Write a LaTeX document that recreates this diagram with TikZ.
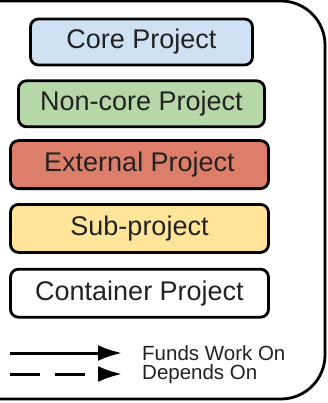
\documentclass[tikz,border=0pt]{standalone}
\usepackage{fontspec}
\setmainfont{Liberation Sans}
\usepackage{xcolor}
\usetikzlibrary{positioning,arrows.meta}

\definecolor{coreblue}{HTML}{CFE2F3}
\definecolor{noncoregreen}{HTML}{B6D7A8}
\definecolor{externalred}{HTML}{DD7E6B}
\definecolor{subyellow}{HTML}{FFE599}
\definecolor{textgray}{HTML}{222222}

\begin{document}
\begin{tikzpicture}[
    x=1pt, y=-1pt,
    project/.style={rectangle, draw, line width=2.8pt, rounded corners=8pt, minimum height=46pt, align=center, text=textgray, font=\fontsize{27}{30}\selectfont},
    legendtext/.style={anchor=west, inner sep=0pt, text=textgray, font=\fontsize{20.5}{22}\selectfont},
    arrow/.style={-{Latex[length=24pt,width=16pt]}, line width=3pt}
]

\useasboundingbox (0,0) rectangle (328,403);
\clip (0,0) rectangle (328,403);
\fill[white] (0,0) rectangle (328,403);

% Outer frame
\draw[line width=2.8pt, rounded corners=44pt] (-80,1) rectangle (325,399);

% Project kinds
\node[project, fill=coreblue, minimum width=222pt] (core) at (141.5,42) {Core Project};
\node[project, fill=noncoregreen, minimum width=246pt, below=13pt of core] (noncore) {Non-core Project};
\node[project, fill=externalred, minimum width=258pt, minimum height=48pt, below=11pt of noncore, xshift=-2pt] (external) {External Project};
\node[project, fill=subyellow, minimum width=258pt, minimum height=48pt, below=13pt of external] (sub) {Sub-project};
\node[project, fill=white, minimum width=258pt, minimum height=48pt, below=14pt of sub] (container) {Container Project};

% Legend
\coordinate (fundsstart) at (10,353);
\coordinate[right=112pt of fundsstart] (fundsend);
\coordinate (dependsstart) at (10,374);
\coordinate[right=112pt of dependsstart] (dependsend);

\draw[arrow] (fundsstart) -- (fundsend);
\draw[arrow, dash pattern=on 30pt off 15pt] (dependsstart) -- (dependsend);

\node[legendtext, right=20pt of fundsend] (fundslbl) {Funds Work On};
\node[legendtext, right=20pt of dependsend] (dependslbl) {Depends On};

\end{tikzpicture}
\end{document}
